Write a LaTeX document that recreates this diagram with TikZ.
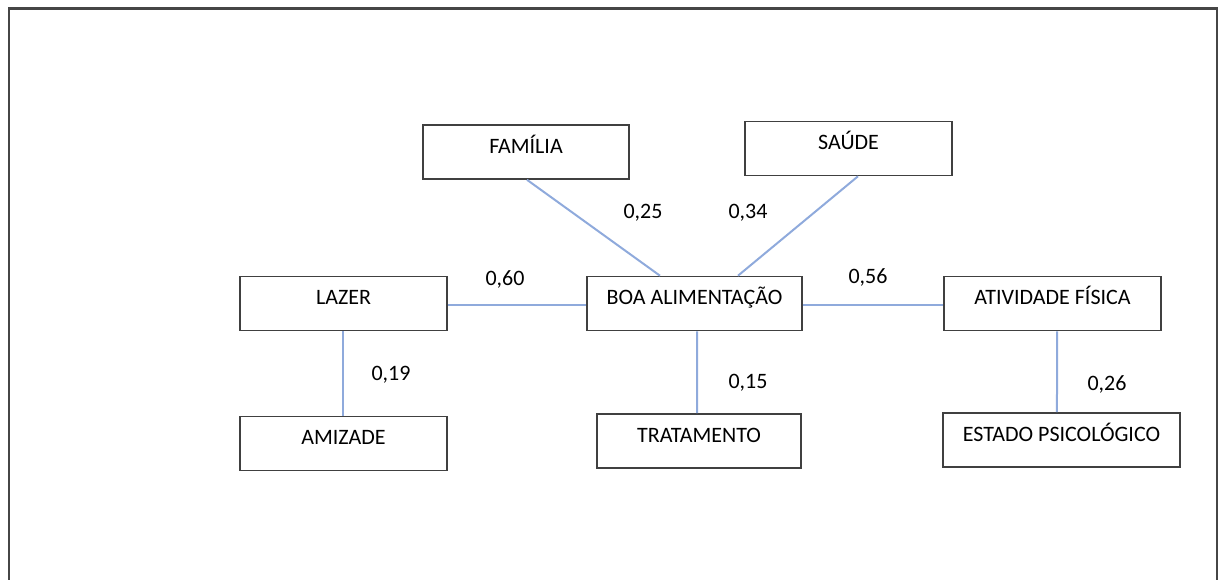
\documentclass[tikz,border=0pt]{standalone}
\usepackage{fontspec}
\setmainfont{Carlito}
\definecolor{boxgray}{RGB}{64,64,64}
\definecolor{linkblue}{RGB}{143,170,220}
\definecolor{framegray}{RGB}{70,70,70}
\begin{document}
\begin{tikzpicture}[x=0.75pt,y=-0.75pt,
  box/.style={draw=boxgray, line width=1.2pt, inner sep=0pt, text height=21pt, text depth=19.5pt,
    font=\fontsize{16.5}{18}\selectfont},
  link/.style={draw=linkblue, line width=1.5pt},
  num/.style={font=\fontsize{16.5}{18}\selectfont, inner sep=0pt},
  frame/.style={draw=framegray, line width=1.8pt}]
\useasboundingbox (0,0) rectangle (1219,579);
\draw[frame] (9,585) -- (9,8.5) -- (1217,8.5) -- (1217,585);

\node[box, minimum width=154.5pt] (fam) at (526,152) {FAMÍLIA};
\node[box, minimum width=155.25pt] (sau) at (848.5,148.5) {SAÚDE};
\node[box, minimum width=155.25pt] (laz) at (343.5,303.5) {LAZER};
\node[box, minimum width=161.25pt] (boa) at (694.5,303.5) {BOA ALIMENTAÇÃO};
\node[box, minimum width=162.75pt] (ativ) at (1052.5,303.5) {ATIVIDADE FÍSICA};
\node[box, minimum width=155.25pt] (amiz) at (343.5,443.5) {AMIZADE};
\node[box, minimum width=153pt] (trat) at (699,441) {TRATAMENTO};
\node[box, minimum width=177.75pt] (est) at (1061.5,440) {ESTADO PSICOLÓGICO};

\draw[link] ([xshift=0.75pt]fam.south) -- ([xshift=-25.9pt]boa.north);
\draw[link] ([xshift=7.1pt]sau.south) -- ([xshift=32.6pt]boa.north);
\draw[link] ([yshift=-1.1pt]laz.east) -- ([yshift=-1.1pt]boa.west);
\draw[link] ([yshift=-1.1pt]boa.east) -- ([yshift=-1.1pt]ativ.west);
\draw[link] ([xshift=1.9pt]boa.south) -- ([xshift=-1.5pt]trat.north);
\draw[link] ([xshift=-0.4pt]laz.south) -- ([xshift=-0.4pt]amiz.north);
\draw[link] ([xshift=3.4pt]ativ.south) -- ([xshift=-3.4pt]est.north);

\node[num] (n1) at (643,213) {0,25};
\node[num] (n2) at (748,213) {0,34};
\node[num] (n3) at (505,279) {0,60};
\node[num] (n4) at (868,277) {0,56};
\node[num] (n5) at (391,375) {0,19};
\node[num] (n6) at (748,383) {0,15};
\node[num] (n7) at (1107,384) {0,26};
\end{tikzpicture}
\end{document}
